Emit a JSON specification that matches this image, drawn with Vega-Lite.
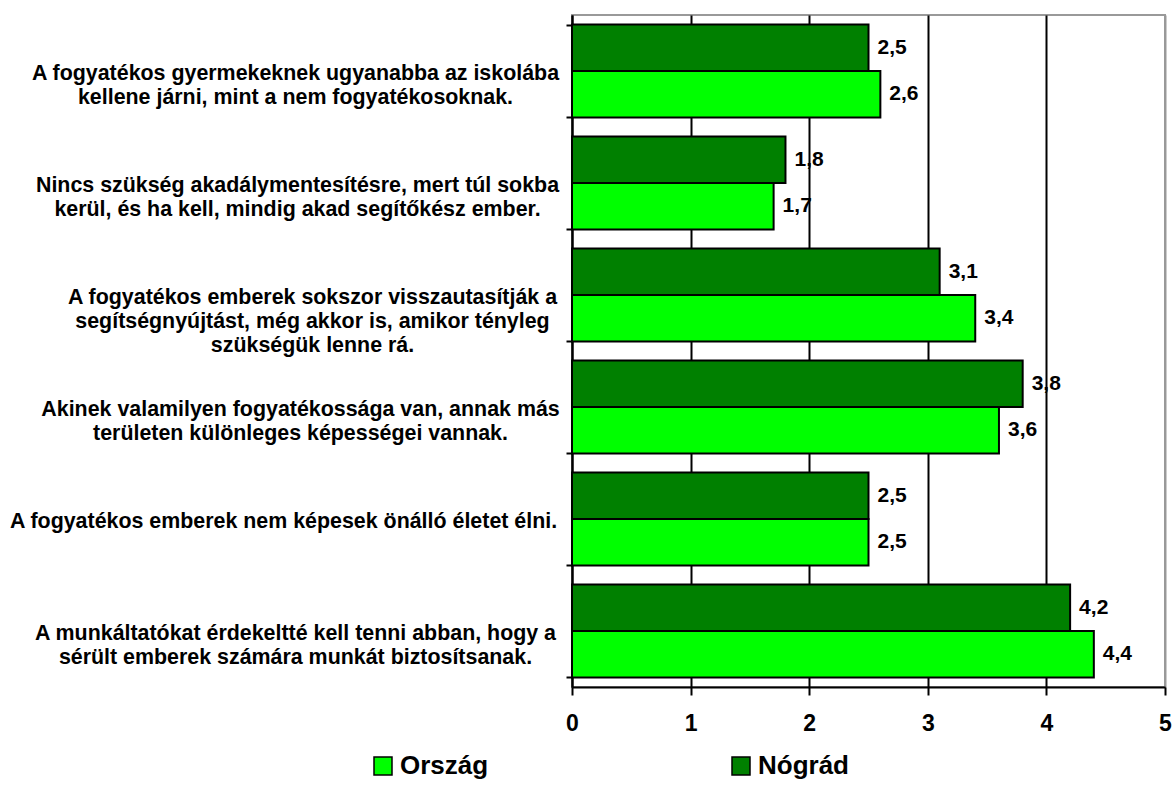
{
  "$schema": "https://vega.github.io/schema/vega-lite/v6.json",
  "width": 593,
  "height": 672,
  "autosize": {"type": "none"},
  "padding": {"left": 572, "top": 15, "right": 8, "bottom": 101},
  "background": "white",
  "config": {
    "font": "Liberation Sans",
    "view": {"stroke": "#999999", "strokeWidth": 2},
    "locale": {"number": {"decimal": ",", "thousands": " ", "grouping": [3], "currency": ["", " Ft"]}}
  },
  "data": {
    "values": [
      {"statement": "A fogyatékos gyermekeknek ugyanabba az iskolába|kellene járni, mint a nem fogyatékosoknak.", "group": "Nógrád", "value": 2.5},
      {"statement": "A fogyatékos gyermekeknek ugyanabba az iskolába|kellene járni, mint a nem fogyatékosoknak.", "group": "Ország", "value": 2.6},
      {"statement": "Nincs szükség akadálymentesítésre, mert túl sokba|kerül, és ha kell, mindig akad segítőkész ember.", "group": "Nógrád", "value": 1.8},
      {"statement": "Nincs szükség akadálymentesítésre, mert túl sokba|kerül, és ha kell, mindig akad segítőkész ember.", "group": "Ország", "value": 1.7},
      {"statement": "A fogyatékos emberek sokszor visszautasítják a|segítségnyújtást, még akkor is, amikor tényleg|szükségük lenne rá.", "group": "Nógrád", "value": 3.1},
      {"statement": "A fogyatékos emberek sokszor visszautasítják a|segítségnyújtást, még akkor is, amikor tényleg|szükségük lenne rá.", "group": "Ország", "value": 3.4},
      {"statement": "Akinek valamilyen fogyatékossága van, annak más|területen különleges képességei vannak.", "group": "Nógrád", "value": 3.8},
      {"statement": "Akinek valamilyen fogyatékossága van, annak más|területen különleges képességei vannak.", "group": "Ország", "value": 3.6},
      {"statement": "A fogyatékos emberek nem képesek önálló életet élni.", "group": "Nógrád", "value": 2.5},
      {"statement": "A fogyatékos emberek nem képesek önálló életet élni.", "group": "Ország", "value": 2.5},
      {"statement": "A munkáltatókat érdekeltté kell tenni abban, hogy a|sérült emberek számára munkát biztosítsanak.", "group": "Nógrád", "value": 4.2},
      {"statement": "A munkáltatókat érdekeltté kell tenni abban, hogy a|sérült emberek számára munkát biztosítsanak.", "group": "Ország", "value": 4.4}
    ]
  },
  "encoding": {
    "y": {
      "field": "statement",
      "type": "nominal",
      "sort": null,
      "scale": {"paddingInner": 0.17, "paddingOuter": 0.085},
      "axis": {
        "title": null,
        "grid": false,
        "tickBand": "extent",
        "tickSize": 6,
        "tickWidth": 2,
        "tickColor": "black",
        "domainColor": "black",
        "domainWidth": 2,
        "labelExpr": "isValid(datum.value) ? split(datum.value, '|') : ''",
        "labelAlign": "center",
        "labelBaseline": "middle",
        "labelPadding": {
          "condition": [
            {"test": "isValid(datum.value) && indexof(datum.value, 'önálló') >= 0", "value": 283},
            {"test": "isValid(datum.value) && indexof(datum.value, 'visszautasítják') >= 0", "value": 254},
            {"test": "isValid(datum.value) && indexof(datum.value, 'Akinek') >= 0", "value": 266},
            {"test": "isValid(datum.value) && indexof(datum.value, 'Nincs') >= 0", "value": 269}
          ],
          "value": 271
        },
        "labelOffset": 2,
        "labelFontSize": 21.4,
        "labelFontWeight": "bold",
        "labelLineHeight": 24,
        "labelColor": "black",
        "labelLimit": 800,
        "labelOverlap": false
      }
    },
    "yOffset": {"field": "group", "type": "nominal", "sort": ["Nógrád", "Ország"], "scale": {"paddingInner": 0}},
    "x": {
      "field": "value",
      "type": "quantitative",
      "scale": {"domain": [0, 5], "nice": false},
      "axis": {
        "title": null,
        "values": [0, 1, 2, 3, 4, 5],
        "format": "d",
        "grid": true,
        "gridColor": {"condition": {"test": "datum.value == 5", "value": "#999999"}, "value": "black"},
        "gridWidth": 2,
        "gridOpacity": 1,
        "tickSize": 8,
        "tickWidth": 2,
        "tickColor": "black",
        "domainColor": "black",
        "domainWidth": 2,
        "labelFontSize": 23,
        "labelFontWeight": "bold",
        "labelColor": "black",
        "labelPadding": 17,
        "labelFlush": false
      }
    }
  },
  "layer": [
    {
      "mark": {"type": "bar", "stroke": "black", "strokeWidth": 2},
      "encoding": {
        "color": {
          "field": "group",
          "type": "nominal",
          "scale": {"domain": ["Ország", "Nógrád"], "range": ["#00FF00", "#008000"]},
          "legend": {
            "title": null,
            "orient": "none",
            "legendX": -202,
            "legendY": 738,
            "direction": "horizontal",
            "symbolType": "square",
            "symbolSize": 324,
            "symbolStrokeColor": "black",
            "symbolStrokeWidth": 1.5,
            "symbolOpacity": 1,
            "labelFontSize": 26,
            "labelFontWeight": "bold",
            "labelColor": "black",
            "labelOffset": 4,
            "columnPadding": 239
          }
        }
      }
    },
    {
      "mark": {"type": "text", "align": "left", "baseline": "middle", "dx": 9, "fontSize": 21, "fontWeight": "bold", "color": "black"},
      "encoding": {"text": {"field": "value", "type": "quantitative", "format": ".1f"}}
    }
  ]
}
